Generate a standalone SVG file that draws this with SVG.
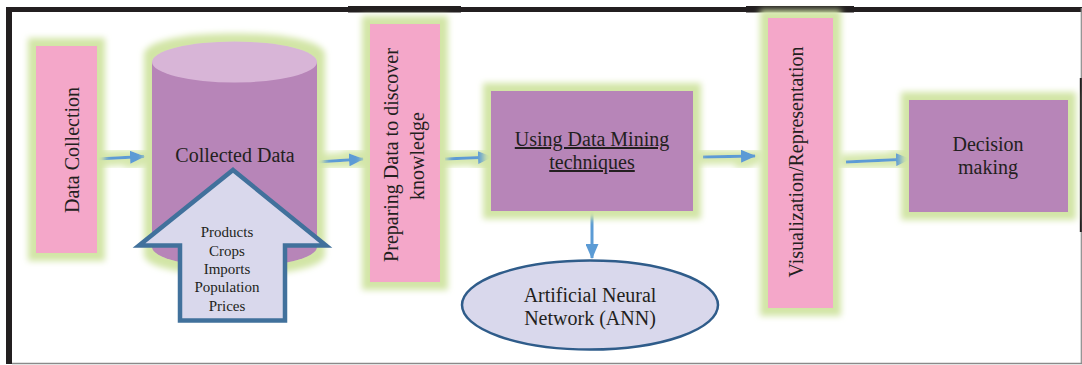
<svg xmlns="http://www.w3.org/2000/svg" width="1082" height="365" viewBox="0 0 1082 365">
<style>
  .t { font-family: 'Liberation Serif', 'Times New Roman', Times, serif; fill: #231F20; font-size: 20px; }
  .s { font-size: 15px; }
  .pink { fill: #F4A7C9; }
  .purple { fill: #B785B8; }
  .conn { stroke: #5B9BD5; stroke-width: 3; fill: none; }
  .mid { text-anchor: middle; }
</style>
<defs>
  <filter id="glow" x="-30%" y="-30%" width="160%" height="160%">
    <feMorphology in="SourceAlpha" operator="dilate" radius="8" result="d"/>
    <feGaussianBlur in="d" stdDeviation="3" result="b"/>
    <feFlood flood-color="#D2E5A6"/>
    <feComposite in2="b" operator="in" result="g"/>
    <feMerge><feMergeNode in="g"/><feMergeNode in="SourceGraphic"/></feMerge>
  </filter>
  <filter id="aglow" x="-30%" y="-100%" width="160%" height="300%">
    <feMorphology in="SourceAlpha" operator="dilate" radius="6" result="d"/>
    <feGaussianBlur in="d" stdDeviation="3" result="b"/>
    <feFlood flood-color="#D6E8AE"/>
    <feComposite in2="b" operator="in" result="g"/>
    <feMerge><feMergeNode in="g"/><feMergeNode in="SourceGraphic"/></feMerge>
  </filter>
  <marker id="ah" markerUnits="userSpaceOnUse" markerWidth="15" markerHeight="13" refX="14" refY="6.5" orient="auto">
    <path d="M0,0 L15,6.5 L0,13 Z" fill="#5B9BD5"/>
  </marker>
</defs>

<rect width="1082" height="365" fill="#FFFFFF"/>

<!-- frame -->
<g id="frame">
  <rect x="6" y="7" width="1076" height="5" fill="#231F20"/>
  <rect x="348" y="6" width="113" height="6.5" fill="#231F20"/>
  <rect x="746" y="6" width="108" height="6.5" fill="#231F20"/>
  <rect x="6" y="7" width="6" height="357" fill="#231F20"/>
  <line x1="12" y1="363.5" x2="1082" y2="363.5" stroke="#8A8A8A" stroke-width="1.5"/>
  <line x1="1081.3" y1="8" x2="1081.3" y2="364" stroke="#8A8A8A" stroke-width="1.2"/>
  <line x1="1080.8" y1="78" x2="1080.8" y2="232" stroke="#231F20" stroke-width="2"/>
</g>

<!-- connectors -->
<g id="connectors">
  <g filter="url(#aglow)">
    <line class="conn" x1="97" y1="159" x2="144" y2="156.5" marker-end="url(#ah)"/>
    <line class="conn" x1="317" y1="162" x2="363" y2="159" marker-end="url(#ah)"/>
    <line class="conn" x1="445" y1="159" x2="492" y2="157" marker-end="url(#ah)"/>
    <line class="conn" x1="703" y1="157" x2="755" y2="156" marker-end="url(#ah)"/>
    <line class="conn" x1="846" y1="162" x2="910" y2="159" marker-end="url(#ah)"/>
  </g>
  <line class="conn" x1="592" y1="211" x2="592" y2="258" marker-end="url(#ah)"/>
</g>

<g id="data-collection">
  <rect class="pink" x="36" y="46" width="61" height="207" filter="url(#glow)"/>
  <text class="t mid" font-family="Liberation Serif, serif" transform="translate(79,150) rotate(-90)">Data Collection</text>
</g>

<g id="collected-data">
  <g filter="url(#glow)">
    <path d="M152,62 L152,247 A82.5,20 0 0 0 317,247 L317,62 Z" fill="#B785B8"/>
    <ellipse cx="234.5" cy="62" rx="82.5" ry="20.5" fill="#D8B5D7"/>
  </g>
  <text class="t mid" font-family="Liberation Serif, serif" x="235" y="162">Collected Data</text>
</g>

<g id="sources">
  <polygon points="233,170 326,245.5 285,245.5 285,320.5 180,320.5 180,245.5 139,245.5" fill="#D9D8EC" stroke="#41719C" stroke-width="4.5" stroke-linejoin="miter"/>
  <text class="t s mid" font-family="Liberation Serif, serif" x="227" y="237">Products</text>
  <text class="t s mid" font-family="Liberation Serif, serif" x="227" y="255.5">Crops</text>
  <text class="t s mid" font-family="Liberation Serif, serif" x="227" y="274">Imports</text>
  <text class="t s mid" font-family="Liberation Serif, serif" x="227" y="292">Population</text>
  <text class="t s mid" font-family="Liberation Serif, serif" x="227" y="310.5">Prices</text>
</g>

<g id="preparing">
  <rect class="pink" x="370" y="24" width="70" height="258" filter="url(#glow)"/>
  <text class="t mid" font-family="Liberation Serif, serif" transform="translate(398,155) rotate(-90)">Preparing Data to discover</text>
  <text class="t mid" font-family="Liberation Serif, serif" transform="translate(424,156) rotate(-90)">knowledge</text>
</g>

<g id="data-mining">
  <rect class="purple" x="491" y="91" width="202" height="120" filter="url(#glow)"/>
  <text class="t mid" font-family="Liberation Serif, serif" x="592" y="146" text-decoration="underline">Using Data Mining</text>
  <text class="t mid" font-family="Liberation Serif, serif" x="592" y="169" text-decoration="underline">techniques</text>
</g>

<g id="ann">
  <ellipse cx="590" cy="305" rx="128" ry="44.5" fill="#D9D8EC" stroke="#2F5C8A" stroke-width="2.5"/>
  <text class="t mid" font-family="Liberation Serif, serif" x="590" y="302">Artificial Neural</text>
  <text class="t mid" font-family="Liberation Serif, serif" x="590" y="325">Network (ANN)</text>
</g>

<g id="visualization">
  <rect class="pink" x="768" y="18" width="65" height="290" filter="url(#glow)"/>
  <text class="t mid" font-family="Liberation Serif, serif" transform="translate(803,162) rotate(-90)">Visualization/Representation</text>
</g>

<g id="decision">
  <rect class="purple" x="909" y="100" width="159" height="112" filter="url(#glow)"/>
  <text class="t mid" font-family="Liberation Serif, serif" x="988" y="151">Decision</text>
  <text class="t mid" font-family="Liberation Serif, serif" x="988" y="174">making</text>
</g>
</svg>
